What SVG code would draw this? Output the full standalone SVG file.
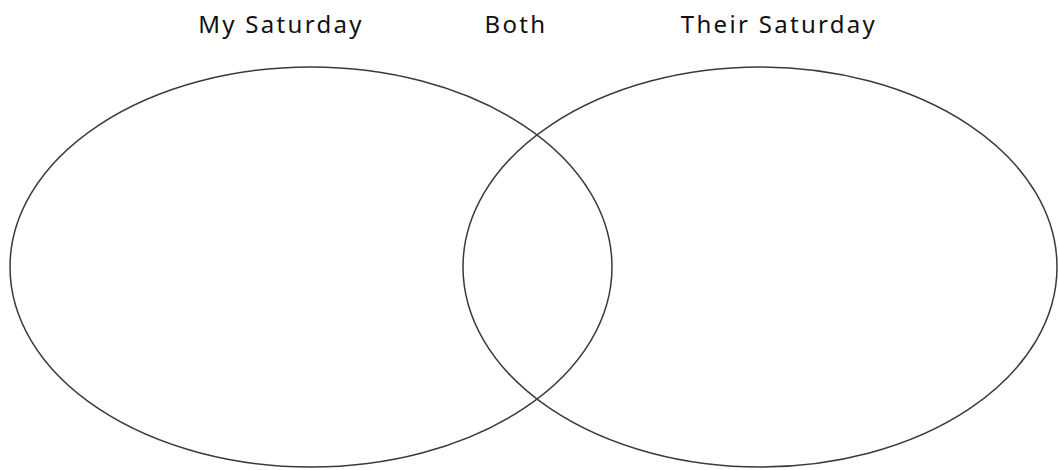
<svg xmlns="http://www.w3.org/2000/svg" width="1058" height="470" viewBox="0 0 1058 470">
<style>
.c{fill:none;stroke:#3a3a3a;stroke-width:1.5}
.t{font-family:"Noto Sans","Open Sans",sans-serif;font-size:24px;letter-spacing:2.3px;fill:#111;text-anchor:middle}
</style>
<rect width="1058" height="470" fill="#fff"/>
<g id="labels">
<text class="t" x="281" y="33">My Saturday</text>
<text class="t" x="516" y="33">Both</text>
<text class="t" x="779" y="33">Their Saturday</text>
</g>
<g id="left-circle"><ellipse class="c" cx="311" cy="267" rx="301" ry="200"/></g>
<g id="right-circle"><ellipse class="c" cx="760" cy="267" rx="297" ry="200"/></g>
<g id="connectors"></g>
</svg>
